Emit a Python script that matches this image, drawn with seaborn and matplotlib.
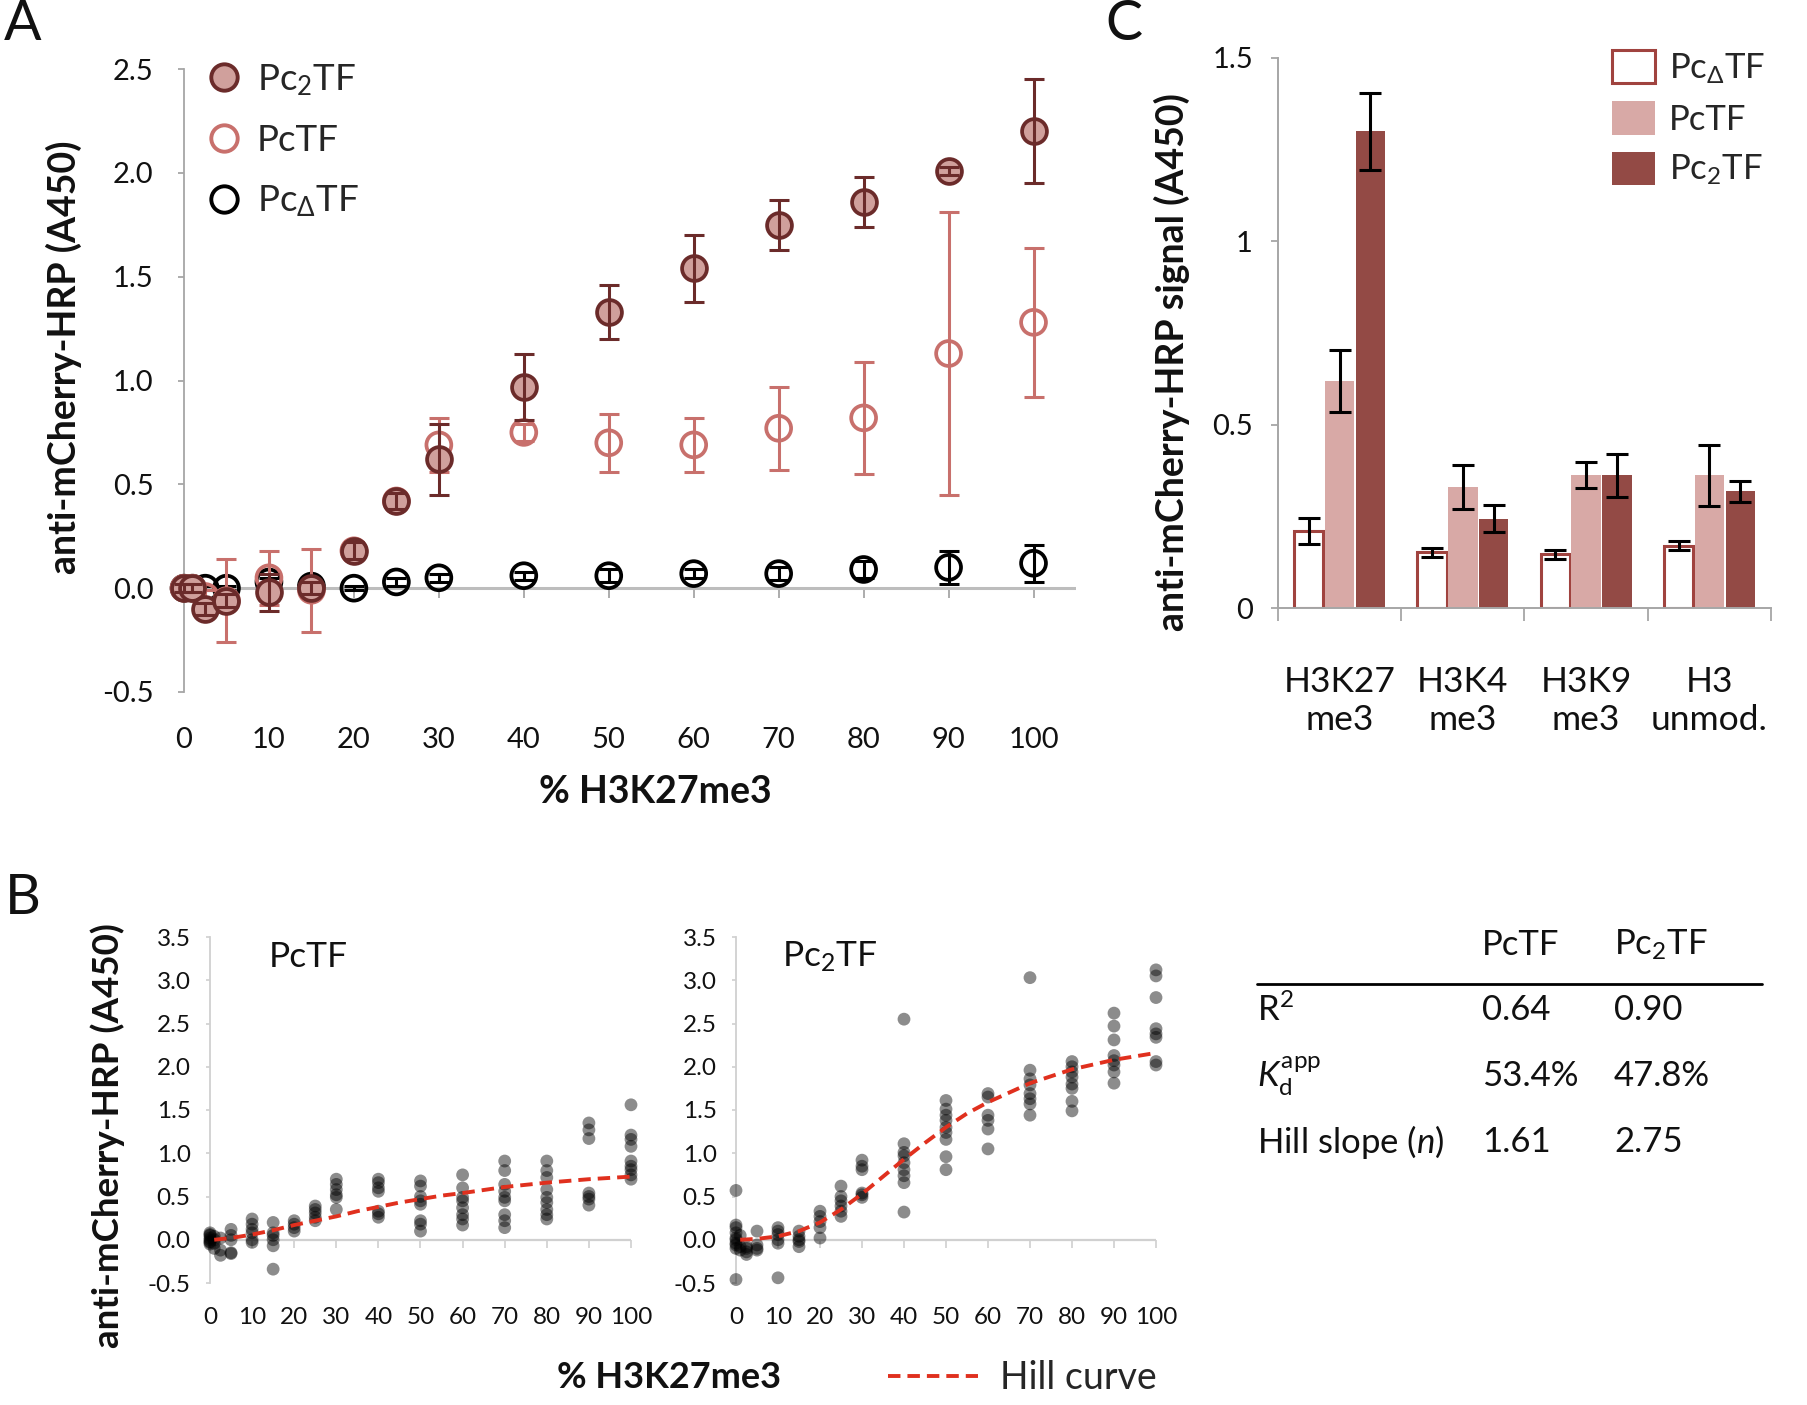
import matplotlib
matplotlib.use("Agg")
import matplotlib.pyplot as plt
from matplotlib.lines import Line2D
from matplotlib.ticker import FormatStrFormatter, FixedLocator
import numpy as np
import pandas as pd
import seaborn as sns

# ---- panel A: mean signal vs % H3K27me3 ----
a_pct = [0, 1, 2.5, 5, 10, 15, 20, 25, 30, 40, 50, 60, 70, 80, 90, 100]
pc2_mean = [0.0, 0.0, -0.10, -0.06, -0.02, 0.0, 0.18, 0.42, 0.62, 0.97, 1.33, 1.54, 1.75, 1.86, 2.01, 2.20]
pc2_err = [0.02, 0.02, 0.03, 0.03, 0.09, 0.03, 0.04, 0.04, 0.17, 0.16, 0.13, 0.16, 0.12, 0.12, 0.02, 0.25]
pc_mean = [0.0, 0.0, -0.04, -0.06, 0.05, -0.01, 0.18, 0.42, 0.69, 0.75, 0.70, 0.69, 0.77, 0.82, 1.13, 1.28]
pc_err = [0.02, 0.02, 0.03, 0.20, 0.13, 0.20, 0.04, 0.03, 0.13, 0.04, 0.14, 0.13, 0.20, 0.27, 0.68, 0.36]
pcd_mean = [0.0, 0.0, 0.0, 0.0, 0.03, 0.01, 0.0, 0.03, 0.05, 0.06, 0.06, 0.07, 0.07, 0.09, 0.10, 0.12]
pcd_err = [0.01, 0.01, 0.01, 0.01, 0.02, 0.01, 0.01, 0.02, 0.02, 0.02, 0.03, 0.02, 0.03, 0.04, 0.08, 0.09]

# ---- panel B: replicate points + Hill fits ----
b_pct = [0, 1, 2.5, 5, 10, 15, 20, 25, 30, 40, 50, 60, 70, 80, 90, 100]
pctf_reps = [
    [0.08, 0.05, 0.02, 0.0, -0.02, -0.05, 0.06, -0.03],
    [0.04, -0.04, 0.0, -0.10],
    [-0.18, -0.12, 0.02],
    [0.12, 0.05, 0.0, -0.15, -0.16],
    [0.24, 0.18, 0.12, 0.08, 0.0, -0.03],
    [0.20, 0.08, 0.05, 0.0, -0.07, -0.34],
    [0.22, 0.18, 0.14, 0.10],
    [0.39, 0.35, 0.31, 0.26, 0.22],
    [0.70, 0.64, 0.58, 0.52, 0.49, 0.35],
    [0.70, 0.66, 0.60, 0.56, 0.33, 0.30, 0.26],
    [0.68, 0.62, 0.50, 0.45, 0.41, 0.22, 0.18, 0.10],
    [0.75, 0.60, 0.49, 0.45, 0.37, 0.29, 0.24, 0.17],
    [0.91, 0.80, 0.64, 0.56, 0.49, 0.45, 0.29, 0.22, 0.14],
    [0.91, 0.80, 0.72, 0.58, 0.49, 0.43, 0.35, 0.29, 0.24],
    [1.35, 1.27, 1.17, 0.54, 0.50, 0.47, 0.40],
    [1.56, 1.21, 1.16, 1.08, 0.91, 0.85, 0.81, 0.75, 0.70],
]
pc2tf_reps = [
    [0.57, 0.17, 0.14, 0.08, 0.02, 0.0, -0.04, -0.06, -0.10, -0.46],
    [0.05, -0.08, -0.12],
    [-0.14, -0.17, -0.08, -0.10],
    [0.10, -0.06, -0.10, -0.12],
    [0.14, 0.10, 0.06, 0.0, -0.04, -0.44],
    [0.10, 0.04, 0.0, -0.02, -0.08],
    [0.33, 0.27, 0.21, 0.14, 0.02],
    [0.62, 0.50, 0.45, 0.39, 0.33, 0.27],
    [0.92, 0.85, 0.81, 0.54, 0.52, 0.49],
    [2.55, 1.11, 1.01, 0.97, 0.89, 0.81, 0.74, 0.66, 0.32],
    [1.61, 1.51, 1.44, 1.38, 1.30, 1.24, 1.16, 0.96, 0.81],
    [1.69, 1.65, 1.44, 1.38, 1.28, 1.05],
    [3.03, 1.96, 1.86, 1.79, 1.69, 1.63, 1.57, 1.44],
    [2.06, 2.00, 1.94, 1.88, 1.80, 1.75, 1.60, 1.49],
    [2.62, 2.47, 2.31, 2.13, 2.07, 2.02, 1.94, 1.81],
    [3.12, 3.05, 2.80, 2.44, 2.38, 2.34, 2.06, 2.02],
]
hill_x = [1, 5, 10, 15, 20, 25, 30, 35, 40, 45, 50, 55, 60, 70, 80, 90, 100]
pctf_hill = [0.0, 0.02, 0.06, 0.11, 0.17, 0.22, 0.27, 0.33, 0.38, 0.43, 0.47, 0.51, 0.54, 0.61, 0.66, 0.70, 0.73]
pc2tf_hill = [0.0, 0.01, 0.04, 0.10, 0.20, 0.35, 0.53, 0.73, 0.93, 1.12, 1.30, 1.46, 1.59, 1.81, 1.97, 2.08, 2.16]

table_rows = ["R$^2$", "$K_\\mathrm{d}^\\mathrm{app}$", "Hill slope ($n$)"]
table_pctf = ["0.64", "53.4%", "1.61"]
table_pc2tf = ["0.90", "47.8%", "2.75"]

# ---- panel C: bars per histone modification ----
c_mods = ["H3K27\nme3", "H3K4\nme3", "H3K9\nme3", "H3\nunmod."]
c_constructs = ["Pc$_\\Delta$TF", "PcTF", "Pc$_2$TF"]
c_pcd = [0.21, 0.152, 0.146, 0.17]
c_pc = [0.62, 0.33, 0.362, 0.362]
c_pc2 = [1.30, 0.244, 0.362, 0.318]
c_pcd_err = [0.035, 0.012, 0.012, 0.012]
c_pc_err = [0.085, 0.06, 0.036, 0.083]
c_pc2_err = [0.105, 0.037, 0.058, 0.028]

sns.set_theme(style="white")
plt.rcParams["font.family"] = ["Lato", "DejaVu Sans"]
plt.rcParams["mathtext.fontset"] = "custom"
plt.rcParams["mathtext.rm"] = "Lato"
plt.rcParams["mathtext.it"] = "Lato:italic"
plt.rcParams["mathtext.bf"] = "Lato:bold"
plt.rcParams["axes.unicode_minus"] = False

W, H = 1808, 1405
fig = plt.figure(figsize=(W / 100, H / 100), dpi=100)


def box(left, top, right, bottom):
    return [left / W, 1 - bottom / H, (right - left) / W, (bottom - top) / H]


def at(x, y):
    return x / W, 1 - y / H


AXIS = "#a6a6a6"
DARK = "#6b2b2a"
ROSE = "#c8706c"
FILL = "#d0a09c"
TXT = "#111111"

# ================= panel A =================
axA = fig.add_axes(box(184, 69, 1076, 692))
axA.axhline(0, color="#bdbdbd", lw=2.2, zorder=1)
series = [
    (pcd_mean, pcd_err, "none", "black", 3),
    (pc_mean, pc_err, "none", ROSE, 5),
    (pc2_mean, pc2_err, FILL, DARK, 7),
]
for mean, err, face, edge, z in series:
    sns.scatterplot(x=a_pct, y=mean, ax=axA, s=320, facecolor=face,
                    edgecolor=edge, linewidth=2.7, zorder=z, clip_on=False,
                    legend=False)
    axA.errorbar(a_pct, mean, yerr=err, fmt="none", ecolor=edge,
                 elinewidth=2.2, capsize=7, capthick=2.2, zorder=z + 0.5,
                 clip_on=False)

axA.set_xlim(0, 105)
axA.set_ylim(-0.5, 2.5)
axA.set_xticks(range(0, 101, 10))
axA.set_yticks(np.arange(-0.5, 2.51, 0.5))
axA.yaxis.set_major_formatter(FormatStrFormatter("%.1f"))
for s in ["top", "right", "bottom"]:
    axA.spines[s].set_visible(False)
axA.spines["left"].set_color(AXIS)
axA.spines["left"].set_linewidth(1.3)
axA.tick_params(axis="y", left=True, length=4, width=1.3, color=AXIS,
                labelsize=21, pad=18, labelcolor=TXT)
axA.tick_params(axis="x", bottom=True, length=0, labelsize=21, pad=25,
                labelcolor=TXT)
secA = axA.secondary_xaxis(0, transform=axA.transData)
secA.set_xticks(range(0, 101, 10))
secA.spines["bottom"].set_visible(False)
secA.tick_params(axis="x", length=7, width=1.3, color=AXIS, labelbottom=False)

handlesA = [
    Line2D([], [], ls="none", marker="o", ms=19, mfc=FILL, mec=DARK, mew=2.8),
    Line2D([], [], ls="none", marker="o", ms=19, mfc="none", mec=ROSE, mew=2.8),
    Line2D([], [], ls="none", marker="o", ms=19, mfc="none", mec="black", mew=2.8),
]
axA.legend(handlesA, ["Pc$_2$TF", "PcTF", "Pc$_\\Delta$TF"], loc="upper left",
           bbox_to_anchor=at(207, 62), bbox_transform=fig.transFigure,
           frameon=False, fontsize=26.5, handlelength=0.9, handletextpad=0.45,
           labelspacing=0.72, borderpad=0, borderaxespad=0)

fig.text(*at(64, 357), "anti-mCherry-HRP (A450)", rotation=90, ha="center",
         va="center", fontsize=27, fontweight="bold", color=TXT)
fig.text(*at(655, 792), "% H3K27me3", ha="center", va="center", fontsize=27,
         fontweight="bold", color=TXT)

# ================= panel B =================
axB1 = fig.add_axes(box(210, 937, 631, 1283))
axB2 = fig.add_axes(box(736, 937, 1156, 1283))
for ax, reps, hill, name, nx in [(axB1, pctf_reps, pctf_hill, "PcTF", 269),
                                 (axB2, pc2tf_reps, pc2tf_hill, "Pc$_2$TF", 782)]:
    dfB = pd.DataFrame({
        "pct": [p for p, r in zip(b_pct, reps) for _ in r],
        "signal": [v for r in reps for v in r],
    })
    ax.axhline(0, color="#d0d0d0", lw=1.6, zorder=1)
    sns.scatterplot(data=dfB, x="pct", y="signal", ax=ax, color="black",
                    alpha=0.45, s=85, edgecolor="none", clip_on=False,
                    legend=False, zorder=3)
    sns.lineplot(x=hill_x, y=hill, ax=ax, color="#e0301e", lw=2.8,
                 linestyle=(0, (3.2, 1.8)), zorder=4)
    ax.set_xlim(0, 100)
    ax.set_ylim(-0.5, 3.5)
    ax.set_xticks(range(0, 101, 10))
    ax.set_yticks(np.arange(-0.5, 3.51, 0.5))
    ax.yaxis.set_major_formatter(FormatStrFormatter("%.1f"))
    ax.set_xlabel("")
    ax.set_ylabel("")
    for s in ["top", "right", "bottom"]:
        ax.spines[s].set_visible(False)
    ax.spines["left"].set_color("#d0d0d0")
    ax.spines["left"].set_linewidth(1.3)
    ax.tick_params(axis="y", left=True, length=3, width=1.2, color="#d0d0d0",
                   labelsize=17.5, pad=11, labelcolor=TXT)
    ax.tick_params(axis="x", bottom=True, length=0, labelsize=17.5, pad=17,
                   labelcolor=TXT)
    sec = ax.secondary_xaxis(0, transform=ax.transData)
    sec.set_xticks(range(0, 101, 10))
    sec.spines["bottom"].set_visible(False)
    sec.tick_params(axis="x", length=6, width=1.2, color="#d0d0d0",
                    labelbottom=False)
    fig.text(*at(nx, 957), name, ha="left", va="center", fontsize=25.5, color=TXT)

fig.text(*at(108, 1136), "anti-mCherry-HRP (A450)", rotation=90, ha="center",
         va="center", fontsize=26.5, fontweight="bold", color=TXT)
fig.text(*at(669, 1378), "% H3K27me3", ha="center", va="center", fontsize=26,
         fontweight="bold", color=TXT)
fig.legend([axB2.lines[-1]], ["Hill curve"], loc="center left",
           bbox_to_anchor=at(888, 1378), frameon=False, fontsize=27,
           handlelength=2.4, handletextpad=0.6, borderpad=0, borderaxespad=0)

# table of fit parameters
TFS = 25
fig.text(*at(1482, 945), "PcTF", ha="left", va="center", fontsize=TFS, color=TXT)
fig.text(*at(1614, 945), "Pc$_2$TF", ha="left", va="center", fontsize=TFS, color=TXT)
fig.add_artist(Line2D([1257 / W, 1762 / W], [1 - 984 / H, 1 - 984 / H],
                      color="black", lw=2))
for i, (lab, v1, v2) in enumerate(zip(table_rows, table_pctf, table_pc2tf)):
    y = 1010 + i * 66
    fig.text(*at(1257, y), lab, ha="left", va="center", fontsize=TFS, color=TXT)
    fig.text(*at(1482, y), v1, ha="left", va="center", fontsize=TFS, color=TXT)
    fig.text(*at(1614, y), v2, ha="left", va="center", fontsize=TFS, color=TXT)

# ================= panel C =================
axC = fig.add_axes(box(1278, 58, 1771, 608))
dfC = pd.DataFrame({
    "mod": c_mods * 3,
    "construct": [c for c in c_constructs for _ in c_mods],
    "signal": c_pcd + c_pc + c_pc2,
})
sns.barplot(data=dfC, x="mod", y="signal", hue="construct",
            hue_order=c_constructs, palette=["white", "#d8a9a6", "#934a45"],
            width=0.75, gap=0.05, errorbar=None, saturation=1, legend=False,
            ax=axC)
for i, (cont, errs) in enumerate(zip(axC.containers, [c_pcd_err, c_pc_err, c_pc2_err])):
    for p in cont:
        if i == 0:
            p.set_edgecolor("#a0433f")
            p.set_linewidth(2.2)
        else:
            p.set_edgecolor("none")
    xs = [p.get_x() + p.get_width() / 2 for p in cont]
    ys = [p.get_height() for p in cont]
    axC.errorbar(xs, ys, yerr=errs, fmt="none", ecolor="black", elinewidth=2.2,
                 capsize=8, capthick=2.2, zorder=5)

axC.set_xlim(-0.5, 3.5)
axC.set_ylim(0, 1.5)
axC.set_yticks([0, 0.5, 1, 1.5])
axC.set_yticklabels(["0", "0.5", "1", "1.5"])
axC.set_xlabel("")
axC.set_ylabel("")
axC.xaxis.set_minor_locator(FixedLocator([-0.5, 0.5, 1.5, 2.5, 3.5]))
for s in ["top", "right"]:
    axC.spines[s].set_visible(False)
for s in ["left", "bottom"]:
    axC.spines[s].set_color(AXIS)
    axC.spines[s].set_linewidth(1.4)
axC.tick_params(axis="y", left=True, length=5, width=1.3, color=AXIS,
                labelsize=21, pad=13, labelcolor=TXT)
axC.tick_params(axis="x", which="major", bottom=True, length=0, labelsize=25.5,
                pad=42, labelcolor=TXT)
axC.tick_params(axis="x", which="minor", bottom=True, length=9, width=1.3,
                color=AXIS)
for t in axC.get_xticklabels():
    t.set_linespacing(1.2)

axC.legend(axC.containers, c_constructs, loc="upper left",
           bbox_to_anchor=at(1612, 50), bbox_transform=fig.transFigure,
           frameon=False, fontsize=25, handlelength=1.25, handleheight=1.1,
           handletextpad=0.4, labelspacing=0.45, borderpad=0, borderaxespad=0)

fig.text(*at(1172, 362), "anti-mCherry-HRP signal (A450)", rotation=90,
         ha="center", va="center", fontsize=27, fontweight="bold", color=TXT)

# panel letters
fig.text(*at(23, 25), "A", ha="center", va="center", fontsize=40, color=TXT)
fig.text(*at(1124, 25), "C", ha="center", va="center", fontsize=40, color=TXT)
fig.text(*at(23, 899), "B", ha="center", va="center", fontsize=40, color=TXT)

fig.savefig("out.png", dpi=100)
